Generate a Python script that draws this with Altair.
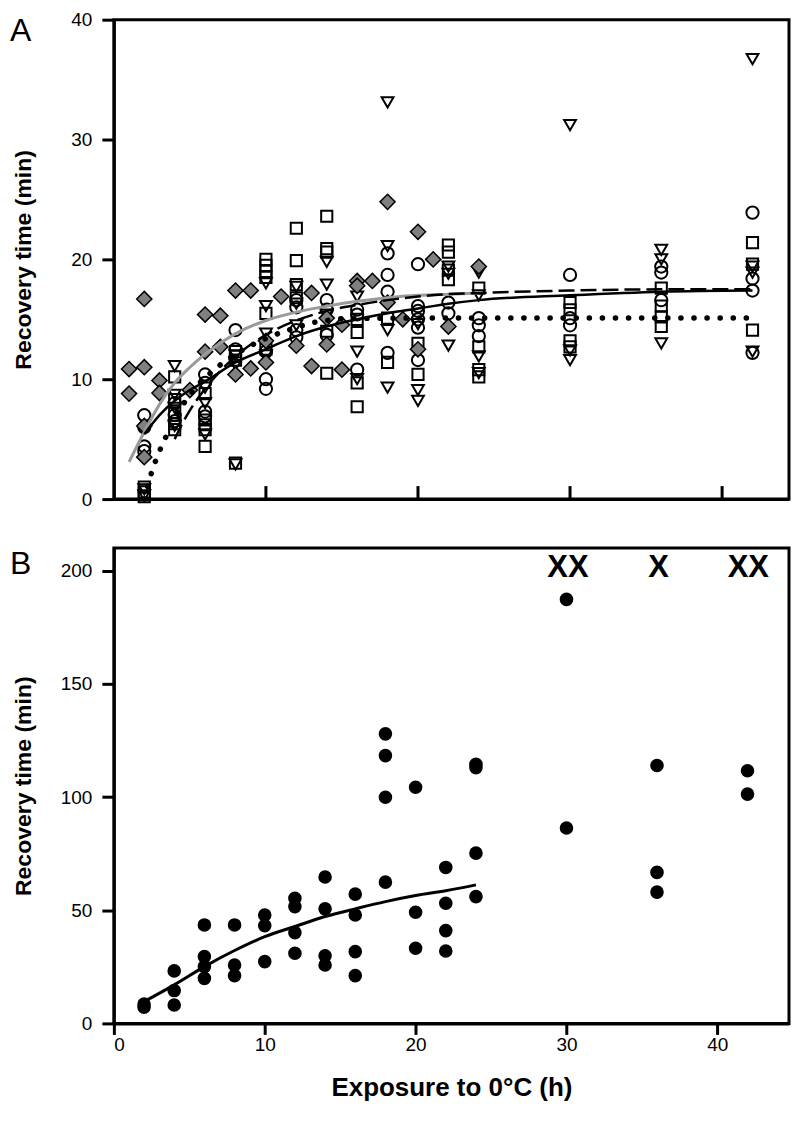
import altair as alt
import pandas as pd

# ---------------- Panel A data ----------------
circle_x = [2, 2, 2, 2, 4, 4, 4, 6, 6, 6, 6, 8, 8, 10, 10, 10, 12, 12, 12, 12, 14, 14, 14,
            16, 16, 16, 18, 18, 18, 18, 20, 20, 20, 20, 20, 20, 22, 22, 24, 24, 24,
            30, 30, 30, 36, 36, 36, 42, 42, 42, 42]
circle_y = [7.0, 6.0, 4.4, 4.0, 8.0, 7.0, 6.5, 10.4, 9.7, 7.3, 6.9, 14.1, 12.5, 12.3, 10.0, 9.2,
            16.6, 16.0, 14.1, 13.5, 16.6, 15.8, 13.7, 15.8, 15.4, 10.8, 20.5, 18.7, 17.3, 12.2,
            19.6, 16.1, 15.7, 15.0, 14.3, 11.6, 16.4, 15.5, 15.1, 14.5, 13.6,
            18.7, 15.1, 14.5, 19.4, 18.9, 16.6, 23.9, 18.4, 17.4, 12.2]

square_x = [2, 2, 2, 4, 4, 4, 4, 4, 6, 6, 6, 6, 6, 8, 8, 8, 8, 10, 10, 10, 10, 10, 10,
            12, 12, 12, 12, 14, 14, 14, 14, 14, 16, 16, 16, 16, 18, 18, 20, 20,
            22, 22, 22, 22, 24, 24, 24, 24, 30, 30, 30, 30, 36, 36, 36, 36, 42, 42, 42]
square_y = [1.0, 0.6, 0.2, 10.2, 8.3, 7.2, 6.3, 5.8, 8.8, 6.6, 6.2, 5.8, 4.4, 12.3, 11.9, 11.6, 3.0,
            20.0, 19.5, 19.0, 18.5, 15.5, 12.5, 22.6, 19.9, 17.9, 16.8, 23.6, 20.9, 20.6, 14.0, 10.5,
            15.0, 13.9, 9.7, 7.7, 15.1, 11.4, 13.0, 10.4, 21.2, 20.6, 19.1, 18.3,
            17.6, 12.7, 10.8, 10.2, 16.4, 15.8, 13.2, 12.7, 17.6, 16.1, 15.2, 14.4, 21.4, 19.6, 14.1]

tri_x = [2, 2, 4, 4, 4, 4, 6, 6, 6, 8, 8, 8, 10, 10, 10, 10, 12, 12, 12, 14, 14, 14,
         16, 16, 16, 18, 18, 18, 18, 20, 20, 20, 22, 22, 22, 24, 24, 24, 24,
         30, 30, 30, 36, 36, 36, 42, 42, 42, 42]
tri_y = [0.8, 0.3, 11.1, 8.7, 7.6, 6.1, 9.3, 8.0, 5.4, 12.0, 11.2, 2.9, 18.0, 16.1, 13.8, 12.0,
         17.7, 16.3, 14.5, 19.8, 17.9, 15.4, 16.9, 12.3, 10.0, 33.1, 21.1, 14.1, 9.3,
         14.6, 9.1, 8.2, 19.4, 18.8, 12.8, 18.9, 17.0, 11.9, 10.5,
         31.2, 12.4, 11.6, 20.8, 20.0, 13.0, 36.7, 18.9, 19.4, 12.3]

diam_x = [1, 1, 2, 2, 2, 2, 3, 3, 5, 6, 6, 7, 7, 8, 8, 9, 9, 10, 10, 11, 12, 13, 13, 14, 14,
          15, 15, 16, 16, 17, 18, 18, 19, 20, 20, 21, 22, 24]
diam_y = [10.85, 8.8, 16.7, 11.0, 6.1, 3.5, 9.9, 8.85, 9.1, 12.3, 15.4, 12.7, 15.3, 17.4, 10.4,
          17.4, 10.9, 11.4, 13.2, 16.9, 12.8, 17.2, 11.1, 12.9, 15.1, 14.55, 10.8, 18.2, 17.8,
          18.2, 24.8, 16.4, 15.0, 22.3, 12.5, 20.0, 14.4, 19.4]

gray_x = [1, 2, 3, 4, 5, 6, 8, 10, 12, 14, 16, 18, 20, 22, 24]
gray_y = [3.1, 5.6, 7.9, 9.7, 11.0, 12.1, 13.8, 14.9, 15.6, 16.1, 16.5, 16.8, 17.0, 17.1, 17.2]

solid_x = [2, 3, 4, 5, 6, 8, 10, 12, 14, 16, 18, 20, 22, 24, 30, 36, 42]
solid_y = [5.4, 7.0, 8.2, 9.1, 9.8, 11.4, 12.5, 13.6, 14.4, 15.0, 15.5, 15.9, 16.3, 16.6, 17.0, 17.3, 17.4]

dash_x = [4, 4.5, 5, 6, 8, 10, 12, 14, 16, 18, 20, 22, 24, 30, 36, 42]
dash_y = [5.0, 6.3, 7.4, 9.2, 11.9, 13.7, 14.9, 15.7, 16.2, 16.6, 16.9, 17.1, 17.2, 17.4, 17.5, 17.5]

dot_x = [2.0, 2.5, 3, 3.5, 4, 5, 6, 7, 8, 9, 10, 11, 12, 13, 14, 15, 20, 30, 42]
dot_y = [0.0, 2.3, 4.0, 5.4, 6.7, 8.7, 10.1, 11.2, 12.1, 12.8, 13.4, 13.9, 14.3, 14.7, 14.9, 15.05,
         15.1, 15.1, 15.1]

a_inner_ticks = [10, 20, 30, 40]
a_yticks = [0, 10, 20, 30, 40]

# ---------------- Panel B data ----------------
b_x = [2, 2, 4, 4, 4, 6, 6, 6, 6, 8, 8, 8, 10, 10, 10, 12, 12, 12, 12, 14, 14, 14, 14,
       16, 16, 16, 16, 18, 18, 18, 18, 20, 20, 20, 22, 22, 22, 22, 24, 24, 24, 24,
       30, 30, 36, 36, 36, 42, 42]
b_y = [8.5, 7.2, 23.2, 14.5, 8.1, 43.5, 29.5, 25.1, 19.9, 43.5, 25.8, 21.1, 47.9, 43.2, 27.3,
       55.3, 51.6, 40.1, 31.0, 64.7, 50.6, 29.9, 25.8, 57.1, 47.9, 31.7, 21.1,
       127.9, 118.3, 99.9, 62.4, 104.3, 49.1, 33.2, 68.9, 53.1, 41.0, 32.0, 114.5, 113.0, 75.2, 56.0,
       187.3, 86.3, 113.9, 66.7, 58.0, 111.6, 101.3]

b_fit_x = [2, 4, 6, 8, 10, 12, 14, 16, 18, 20, 22, 24]
b_fit_y = [9.6, 17.0, 25.1, 32.2, 38.3, 42.8, 47.2, 50.6, 53.8, 56.5, 58.6, 61.2]

xx_labels = ["XX", "X", "XX"]
xx_x = [30.1, 36.1, 42.05]
xx_y = [201, 201, 201]

b_xticks = [0, 10, 20, 30, 40]
b_yticks = [0, 50, 100, 150, 200]

panel_labels = ["A", "B"]

FONT = "Liberation Sans"
WA, HA = 676, 480
WB, HB = 676, 476

# ---------------- Build panel A ----------------
xA = alt.X("x:Q", scale=alt.Scale(domain=[0, 44.4], nice=False),
           axis=alt.Axis(labels=False, ticks=False, title=None))
yA = alt.Y("y:Q", scale=alt.Scale(domain=[0, 40], nice=False),
           axis=alt.Axis(values=a_yticks, tickSize=12, labelPadding=10,
                         title="Recovery time (min)", titleX=-78, titleY=HA / 2))

def pts(xs, ys):
    return pd.DataFrame({"x": xs, "y": ys})

circles = alt.Chart(pts(circle_x, circle_y)).mark_point(
    shape="circle", filled=False, size=150, strokeWidth=2, color="black", opacity=1
).encode(x=xA, y=yA)
squares = alt.Chart(pts(square_x, square_y)).mark_point(
    shape="square", filled=False, size=125, strokeWidth=2, color="black", opacity=1
).encode(x=xA, y=yA)
tris = alt.Chart(pts(tri_x, tri_y)).mark_point(
    shape="triangle-down", filled=False, size=140, strokeWidth=2, color="black", opacity=1
).encode(x=xA, y=yA)
diams = alt.Chart(pts(diam_x, diam_y)).mark_point(
    shape="diamond", filled=True, fill="#808080", stroke="black", strokeWidth=1.5,
    size=230, opacity=1, fillOpacity=1
).encode(x=xA, y=yA)

gray_line = alt.Chart(pts(gray_x, gray_y)).mark_line(
    color="#9a9a9a", strokeWidth=3, interpolate="monotone"
).encode(x=xA, y=yA)
solid_line = alt.Chart(pts(solid_x, solid_y)).mark_line(
    color="black", strokeWidth=2.5, interpolate="monotone"
).encode(x=xA, y=yA)
dash_line = alt.Chart(pts(dash_x, dash_y)).mark_line(
    color="black", strokeWidth=2.5, strokeDash=[16, 6], interpolate="monotone"
).encode(x=xA, y=yA)
dot_line = alt.Chart(pts(dot_x, dot_y)).mark_line(
    color="black", strokeWidth=5.5, strokeDash=[0.1, 13], strokeCap="round", interpolate="monotone"
).encode(x=xA, y=yA)

inner_ticks = alt.Chart(pd.DataFrame({"x": a_inner_ticks})).mark_rule(
    color="black", strokeWidth=3
).encode(x=xA, y=alt.value(HA - 13), y2=alt.value(HA))

label_a = alt.Chart(pd.DataFrame({"t": [panel_labels[0]]})).mark_text(
    align="left", baseline="alphabetic", fontSize=32, font=FONT, color="black"
).encode(text="t:N", x=alt.value(-104), y=alt.value(21))

panelA = alt.layer(
    circles, squares, tris, diams, gray_line, dot_line, dash_line, solid_line, inner_ticks, label_a
).properties(width=WA, height=HA)

# ---------------- Build panel B ----------------
xB = alt.X("x:Q", scale=alt.Scale(domain=[0, 44.75], nice=False),
           axis=alt.Axis(values=b_xticks, tickSize=11, labelPadding=1,
                         title="Exposure to 0°C (h)", titlePadding=20, titleFontSize=26))
yB = alt.Y("y:Q", scale=alt.Scale(domain=[0, 210], nice=False),
           axis=alt.Axis(values=b_yticks, tickSize=12, labelPadding=10,
                         title="Recovery time (min)", titleX=-78, titleY=HB / 2))

dotsB = alt.Chart(pts(b_x, b_y)).mark_circle(size=185, color="black", opacity=1).encode(x=xB, y=yB)
fitB = alt.Chart(pts(b_fit_x, b_fit_y)).mark_line(
    color="black", strokeWidth=3, interpolate="monotone"
).encode(x=xB, y=yB)
xxB = alt.Chart(pd.DataFrame({"x": xx_x, "y": xx_y, "t": xx_labels})).mark_text(
    fontSize=31, fontWeight="bold", font=FONT, color="black", baseline="middle", align="center"
).encode(x=xB, y=yB, text="t:N")
label_b = alt.Chart(pd.DataFrame({"t": [panel_labels[1]]})).mark_text(
    align="left", baseline="alphabetic", fontSize=32, font=FONT, color="black"
).encode(text="t:N", x=alt.value(-104), y=alt.value(26))

panelB = alt.layer(dotsB, fitB, xxB, label_b).properties(width=WB, height=HB)

chart = alt.vconcat(panelA, panelB, spacing=34).resolve_scale(
    x="independent", y="independent"
).properties(
    padding=0
).configure(
    font=FONT
).configure_view(
    stroke="black", strokeWidth=3
).configure_axis(
    domainColor="black", domainWidth=3, tickColor="black", tickWidth=3, grid=False,
    labelFont=FONT, labelFontSize=19, labelColor="black",
    titleFont=FONT, titleFontSize=23, titleFontWeight="bold", titleColor="black"
)

chart.save("out.html", embed_options={"renderer": "svg", "actions": False})
